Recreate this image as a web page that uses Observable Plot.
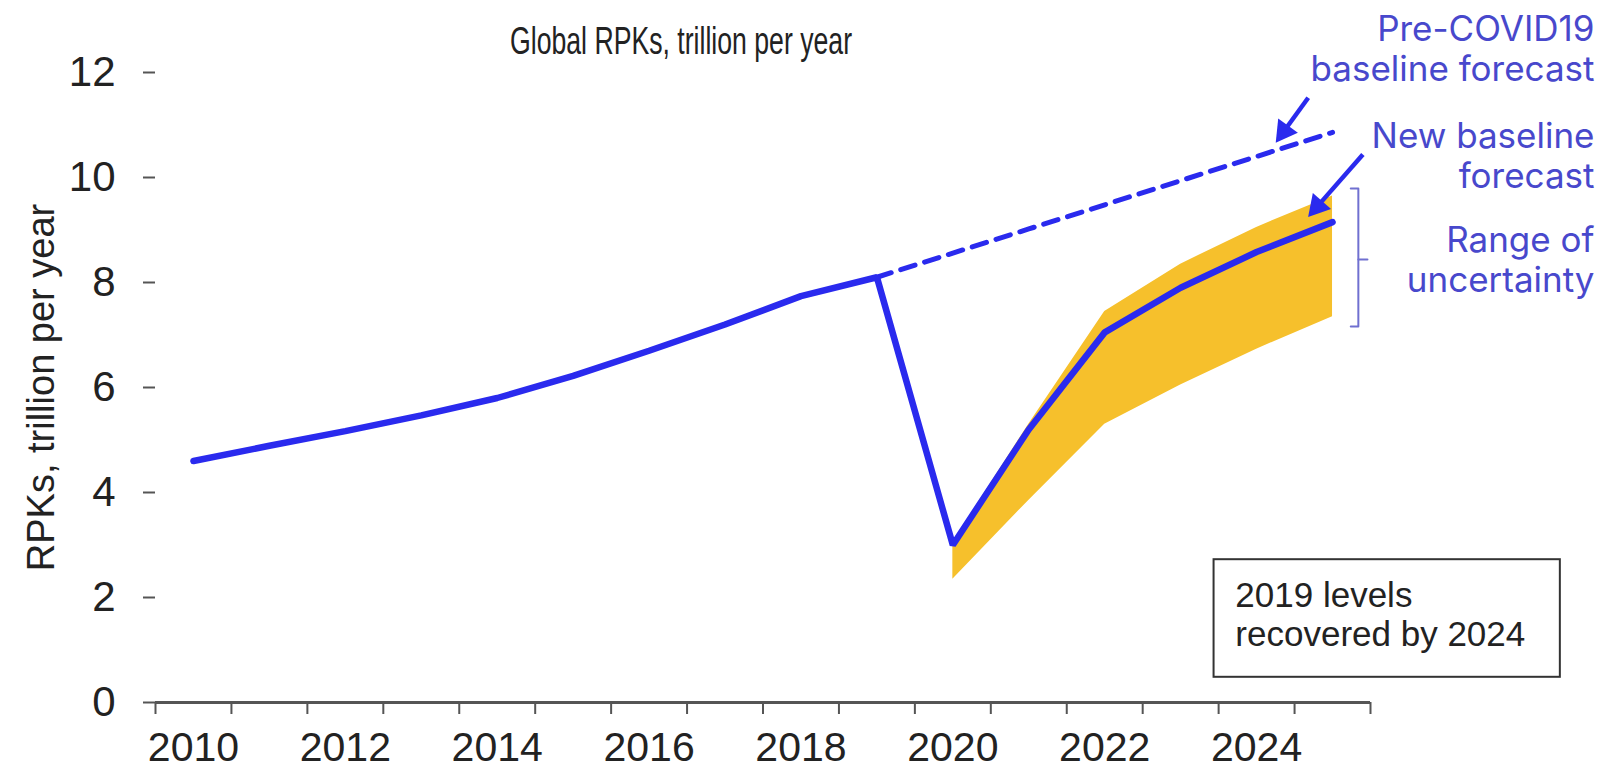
<!DOCTYPE html>
<html><head><meta charset="utf-8">
<script src="https://cdn.jsdelivr.net/npm/d3@7"></script>
<script src="https://cdn.jsdelivr.net/npm/@observablehq/plot@0.6"></script>
<style>body{margin:0;background:#fff}</style>
</head><body><div id="chart"></div>
<script>
// ---- data ----
const years = [2010,2011,2012,2013,2014,2015,2016,2017,2018,2019,2020,2021,2022,2023,2024,2025];
const rpk   = [4.60,4.89,5.17,5.47,5.80,6.22,6.70,7.20,7.74,8.10,3.00,5.20,7.05,7.90,8.58,9.15];
const preYears  = [2019,2020,2021,2022,2023,2024,2025];
const preCovid  = [8.10,8.56,9.02,9.48,9.94,10.40,10.86];
const bandYears = [2020,2021,2022,2023,2024,2025];
const bandHigh  = [3.05,5.30,7.45,8.35,9.05,9.65];
const bandLow   = [2.35,3.85,5.30,6.05,6.73,7.35];
const labelYears = [2010,2012,2014,2016,2018,2020,2022,2024];
const yTicks = [0,2,4,6,8,10,12];
const titleText = "Global RPKs, trillion per year";
const yLabel = "RPKs, trillion per year";
const noteTexts = ["Pre-COVID19\nbaseline forecast", "New baseline\nforecast", "Range of\nuncertainty"];
const noteX = [2028.45, 2028.45, 2028.45];
const noteY = [12.46, 10.43, 8.45];
const boxText = "2019 levels\nrecovered by 2024";

// ---- derived tables ----
const lineData = years.map((y,i) => ({year:y, v:rpk[i]}));
const preData = preYears.map((y,i) => ({year:y, v:preCovid[i]}));
const bandData = bandYears.map((y,i) => ({year:y, hi:bandHigh[i], lo:bandLow[i]}));
const boundaries = years.map(y => y - 0.5).concat([years[years.length-1] + 0.5]);
const notes = noteTexts.map((t,i) => ({t, x:noteX[i], y:noteY[i]}));
const arrows = [
  {x1:2024.68, y1:11.52, x2:2024.36, y2:10.88},
  {x1:2025.40, y1:10.44, x2:2024.80, y2:9.45}
];
// pixel-per-unit of the scales (frame 1215px / 16 years, 630px / 12 units) to orient the heads
const PXX = (1608 - 155 - 238) / 16, PXY = (771 - 72 - 69) / 12;
arrows.forEach(a => {
  const dx = (a.x2 - a.x1) * PXX, dy = -(a.y2 - a.y1) * PXY;
  a.rot = Math.atan2(dx, -dy) * 180 / Math.PI;
});
const bracket = [[2025.24,9.79],[2025.34,9.79],[2025.34,7.16],[2025.24,7.16]];
const bracketTick = [[2025.34,8.44],[2025.46,8.44]];

const BLUE = "#2a2aee";
const TEXTBLUE = "#4848cc";
const YELLOW = "#f6c02c";
const AXIS = "#555";

const chart = Plot.plot({
  width: 1608, height: 771,
  marginLeft: 155, marginRight: 238, marginTop: 72, marginBottom: 69,
  style: {fontFamily: "'Liberation Sans', Arial, sans-serif", fontSize: "42px", color: "#222", background: "#fff"},
  x: {type: "linear", domain: [2009.5, 2025.5], axis: null},
  y: {domain: [0, 12], axis: null},
  marks: [
    Plot.areaY(bandData, {x: "year", y1: "lo", y2: "hi", fill: YELLOW, fillOpacity: 1}),
    Plot.line(preData, {x: "year", y: "v", stroke: BLUE, strokeWidth: 5, strokeDasharray: "15,10"}),
    Plot.line(lineData, {x: "year", y: "v", stroke: BLUE, strokeWidth: 6.5, strokeLinejoin: "miter"}),
    Plot.ruleY([0], {stroke: AXIS, strokeWidth: 3}),
    Plot.axisY(yTicks, {tickSize: 12, tickPadding: 28, stroke: AXIS, strokeWidth: 2, line: true, label: null,
      tickFormat: d => String(d), fontSize: 42, fill: "#222"}),
    Plot.axisX(boundaries, {tickSize: 12, tickFormat: () => "", stroke: AXIS, strokeWidth: 2, label: null}),
    Plot.axisX(labelYears, {tickSize: 0, tickPadding: 29, tickFormat: d => String(d), label: null, fontSize: 41, fill: "#222"}),
    Plot.text([yLabel], {frameAnchor: "left", textAnchor: "middle", lineAnchor: "middle", dx: -114, rotate: -90, fontSize: 38, fill: "#222"}),
    Plot.text([titleText], {frameAnchor: "top", textAnchor: "middle", lineAnchor: "middle", dx: -82, dy: -31, fontSize: 38, fill: "#222"}),
    Plot.link(arrows, {x1: "x1", y1: "y1", x2: "x2", y2: "y2", stroke: BLUE, strokeWidth: 4.5}),
    Plot.dot(arrows, {x: "x2", y: "y2", rotate: "rot", symbol: "triangle", r: 9, fill: BLUE, stroke: null}),
    Plot.line(bracket, {x: d => d[0], y: d => d[1], stroke: "#7070d0", strokeWidth: 2}),
    Plot.line(bracketTick, {x: d => d[0], y: d => d[1], stroke: "#7070d0", strokeWidth: 2}),
    Plot.text(notes, {x: "x", y: "y", text: "t", textAnchor: "end", lineHeight: 1.15, fontSize: 35,
      fill: TEXTBLUE, fontFamily: "Inter, 'Open Sans', sans-serif"}),
    Plot.rect([0], {x1: 2023.44, x2: 2028.0, y1: 0.48, y2: 2.72, fill: "#fff", stroke: "#333", strokeWidth: 2}),
    Plot.text([boxText], {x: 2023.72, y: 1.68, textAnchor: "start", lineHeight: 1.1, fontSize: 35, fill: "#222"})
  ]
});
document.getElementById("chart").appendChild(chart);
// condensed title, as in the reference
chart.querySelectorAll("text").forEach(t => {
  if (t.textContent === titleText) {
    t.setAttribute("textLength", "342");
    t.setAttribute("lengthAdjust", "spacingAndGlyphs");
  }
});
</script></body></html>
